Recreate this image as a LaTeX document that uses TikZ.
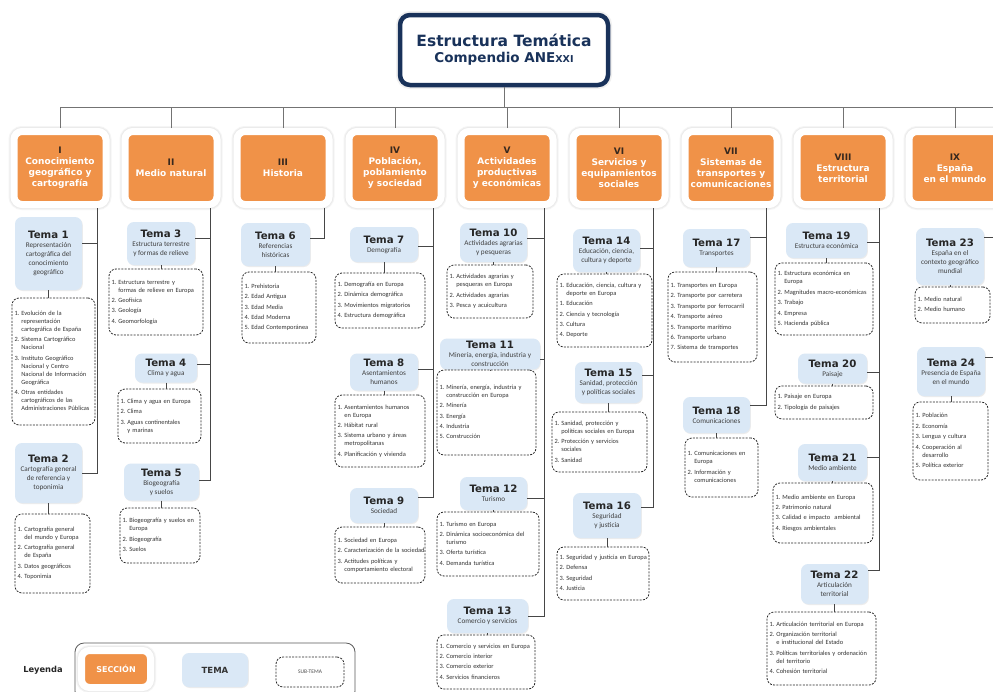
\documentclass[tikz,border=0pt]{standalone}
\usepackage{fontspec}
\setmainfont{Carlito}
\newfontfamily\hfont{DejaVu Sans}
\usetikzlibrary{positioning, shadows}

\definecolor{secorange}{RGB}{240,146,72}
\definecolor{temablue}{RGB}{218,232,246}
\definecolor{navy}{RGB}{25,50,90}
\definecolor{linegray}{RGB}{70,70,70}
\definecolor{bargray}{RGB}{115,115,115}
\definecolor{romandark}{RGB}{55,40,30}

\newcommand{\tnum}[1]{{\hfont\bfseries\fontsize{10.2}{9}\selectfont\color{black!85}#1}}
\newcommand{\snum}[1]{{\color{romandark}#1}}
\newcommand{\nxt}{\\[2.4pt]}
\newenvironment{stlist}{\begin{tabular}{@{}l@{\hspace{2pt}}l@{}}}{\end{tabular}}

\begin{document}
\begin{tikzpicture}[
		x=1pt, y=-1pt,
		sec/.style={fill=secorange, draw=white, line width=7pt, rounded corners=8pt, align=center, inner sep=0pt, text=white, font=\hfont\bfseries\fontsize{9}{11}\selectfont, preaction={draw=black!4, line width=11pt}, preaction={draw=black!8, line width=9pt}},
		tema/.style={fill=temablue, rounded corners=7pt, align=center, inner sep=1.5pt, text=black!75, font=\fontsize{7.2}{9}\selectfont, drop shadow={opacity=0.15, shadow xshift=0.8pt, shadow yshift=-1pt}},
		sub/.style={draw=black!85, line width=0.8pt, dash pattern=on 2pt off 1.3pt, rounded corners=7pt, fill=white, align=left, inner xsep=2.5pt, inner ysep=1pt, text=black!80, font=\fontsize{6.4}{8}\selectfont},
		conn/.style={draw=linegray, line width=0.9pt},
		barline/.style={draw=bargray, line width=0.9pt},
	]
	\useasboundingbox (0,0) rectangle (993,691);
	\fill[white] (0,0) rectangle (993,691);

	% title
	\node[draw=navy, line width=4.5pt, rounded corners=10pt, fill=white, minimum width=208, minimum height=70, align=center, text=navy, font=\hfont\bfseries\fontsize{13.5}{15}\selectfont, preaction={draw=black!6, line width=8pt}] (ttl) at (504,50) {{\fontsize{15.5}{18}\selectfont Estructura Temática}\\[1pt]Compendio ANE{\fontsize{9.5}{10}\selectfont XXI}};

	% sections
	\node[sec, minimum width=92, minimum height=73] (s1) at (60,168) {\snum{I}\\Conocimiento\\geográfico y\\cartografía};
	\node[sec, minimum width=92, minimum height=73] (s2) at (171,168) {\snum{II}\\Medio natural};
	\node[sec, minimum width=92, minimum height=73] (s3) at (283,168) {\snum{III}\\Historia};
	\node[sec, minimum width=92, minimum height=73] (s4) at (395,168) {\snum{IV}\\Población,\\poblamiento\\y sociedad};
	\node[sec, minimum width=92, minimum height=73] (s5) at (507,168) {\snum{V}\\Actividades\\productivas\\y económicas};
	\node[sec, minimum width=92, minimum height=73] (s6) at (619,168) {\snum{VI}\\Servicios y\\equipamientos\\sociales};
	\node[sec, minimum width=92, minimum height=73] (s7) at (731,168) {\snum{VII}\\Sistemas de\\transportes y\\comunicaciones};
	\node[sec, minimum width=92, minimum height=73] (s8) at (843,168) {\snum{VIII}\\Estructura\\territorial};
	\node[sec, minimum width=92, minimum height=73] (s9) at (955,168) {\snum{IX}\\España\\en el mundo};

	\coordinate (bar) at (0,107);
	\coordinate (barend) at (1000,107);
	\draw[barline] (ttl.south) -- (ttl.south |- bar);
	\draw[barline] (s1.north |- bar) -- (barend);
	\foreach \s in {1,...,9}
		\draw[barline] (s\s.north) -- (s\s.north |- bar);

	% temas
	\node[tema, minimum width=67, minimum height=73] (t1) at (48.5,253.5) {\tnum{Tema 1}\\Representación\\cartográfica del\\conocimiento\\geográfico};
	\node[tema, minimum width=67, minimum height=60] (t2) at (48.5,473) {\tnum{Tema 2}\\Cartografía general\\de referencia y\\toponimia};
	\node[tema, minimum width=68, minimum height=43] (t3) at (161,243.5) {\tnum{Tema 3}\\Estructura terrestre\\y formas de relieve};
	\node[tema, minimum width=62, minimum height=29] (t4) at (166,368) {\tnum{Tema 4}\\Clima y agua};
	\node[tema, minimum width=75, minimum height=37] (t5) at (161.5,482) {\tnum{Tema 5}\\Biogeografía\\y suelos};
	\node[tema, minimum width=69, minimum height=43] (t6) at (275.5,244.5) {\tnum{Tema 6}\\Referencias\\históricas};
	\node[tema, minimum width=68, minimum height=35] (t7) at (384,244.5) {\tnum{Tema 7}\\Demografía};
	\node[tema, minimum width=68, minimum height=37] (t8) at (384,372) {\tnum{Tema 8}\\Asentamientos\\humanos};
	\node[tema, minimum width=68, minimum height=35] (t9) at (384,505.5) {\tnum{Tema 9}\\Sociedad};
	\node[tema, minimum width=67, minimum height=39] (t10) at (493.5,242.5) {\tnum{Tema 10}\\Actividades agrarias\\y pesqueras};
	\node[tema, minimum width=100, minimum height=31] (t11) at (490,354) {\tnum{Tema 11}\\Minería, energía, industria y\\construcción};
	\node[tema, minimum width=67, minimum height=33] (t12) at (493.5,493.5) {\tnum{Tema 12}\\Turismo};
	\node[tema, minimum width=81, minimum height=34] (t13) at (487.5,616) {\tnum{Tema 13}\\Comercio y servicios};
	\node[tema, minimum width=67, minimum height=43] (t14) at (606.5,250.5) {\tnum{Tema 14}\\Educación, ciencia,\\cultura y deporte};
	\node[tema, minimum width=67, minimum height=41] (t15) at (608.5,382.5) {\tnum{Tema 15}\\Sanidad, protección\\y políticas sociales};
	\node[tema, minimum width=68, minimum height=45] (t16) at (607,515.5) {\tnum{Tema 16}\\Seguridad\\y justicia};
	\node[tema, minimum width=67, minimum height=38] (t17) at (716.5,248) {\tnum{Tema 17}\\Transportes};
	\node[tema, minimum width=67, minimum height=36] (t18) at (716.5,415) {\tnum{Tema 18}\\Comunicaciones};
	\node[tema, minimum width=81, minimum height=35] (t19) at (826.5,240.5) {\tnum{Tema 19}\\Estructura económica};
	\node[tema, minimum width=69, minimum height=30] (t20) at (832.5,368.5) {\tnum{Tema 20}\\Paisaje};
	\node[tema, minimum width=69, minimum height=37] (t21) at (832.5,462.5) {\tnum{Tema 21}\\Medio ambiente};
	\node[tema, minimum width=67, minimum height=40] (t22) at (834.5,584) {\tnum{Tema 22}\\Articulación\\territorial};
	\node[tema, minimum width=68, minimum height=57] (t23) at (950,256.5) {\tnum{Tema 23}\\España en el\\contexto geográfico\\mundial};
	\node[tema, minimum width=68, minimum height=49] (t24) at (951,371.5) {\tnum{Tema 24}\\Presencia de España\\en el mundo};

	% sub-temas
	\node[sub, text width=78, minimum height=127] (st1) at (53.5,361.5) {\begin{stlist}
		1. & Evolución de la\\ & representación\\ & cartográfica de España\nxt
		2. & Sistema Cartográfico\\ & Nacional\nxt
		3. & Instituto Geográfico\\ & Nacional y Centro\\ & Nacional de Información\\ & Geográfica\nxt
		4. & Otras entidades\\ & cartográficos de las\\ & Administraciones Públicas
	\end{stlist}};
	\node[sub, text width=70, minimum height=79] (st2) at (52.5,553.5) {\begin{stlist}
		1. & Cartografía general\\ & del mundo y Europa\nxt
		2. & Cartografía general\\ & de España\nxt
		3. & Datos geográficos\nxt
		4. & Toponimia
	\end{stlist}};
	\node[sub, text width=89, minimum height=66] (st3) at (156,302) {\begin{stlist}
		1. & Estructura terrestre y\\ & formas de relieve en Europa\nxt
		2. & Geofísica\nxt
		3. & Geología\nxt
		4. & Geomorfología
	\end{stlist}};
	\node[sub, text width=78, minimum height=54] (st4) at (159.5,416) {\begin{stlist}
		1. & Clima y agua en Europa\nxt
		2. & Clima\nxt
		3. & Aguas continentales\\ & y marinas
	\end{stlist}};
	\node[sub, text width=75, minimum height=55] (st5) at (160,535.5) {\begin{stlist}
		1. & Biogeografía y suelos en\\ & Europa\nxt
		2. & Biogeografía\nxt
		3. & Suelos
	\end{stlist}};
	\node[sub, text width=69, minimum height=71] (st6) at (279,307.5) {\begin{stlist}
		1. & Prehistoria\nxt
		2. & Edad Antigua\nxt
		3. & Edad Media\nxt
		4. & Edad Moderna\nxt
		5. & Edad Contemporánea
	\end{stlist}};
	\node[sub, text width=85, minimum height=55] (st7) at (380,300.5) {\begin{stlist}
		1. & Demografía en Europa\nxt
		2. & Dinámica demográfica\nxt
		3. & Movimientos migratorios\nxt
		4. & Estructura demográfica
	\end{stlist}};
	\node[sub, text width=85, minimum height=72] (st8) at (380,431) {\begin{stlist}
		1. & Asentamientos humanos\\ & en Europa\nxt
		2. & Hábitat rural\nxt
		3. & Sistema urbano y áreas\\ & metropolitanas\nxt
		4. & Planificación y vivienda
	\end{stlist}};
	\node[sub, text width=85, minimum height=56] (st9) at (380,555) {\begin{stlist}
		1. & Sociedad en Europa\nxt
		2. & Caracterización de la sociedad\nxt
		3. & Actitudes políticas y\\ & comportamiento electoral
	\end{stlist}};
	\node[sub, text width=81, minimum height=53] (st10) at (490,291.5) {\begin{stlist}
		1. & Actividades agrarias y\\ & pesqueras en Europa\nxt
		2. & Actividades agrarias\nxt
		3. & Pesca y acuicultura
	\end{stlist}};
	\node[sub, text width=94, minimum height=85] (st11) at (486.5,412.5) {\begin{stlist}
		1. & Minería, energía, industria y\\ & construcción en Europa\nxt
		2. & Minería\nxt
		3. & Energía\nxt
		4. & Industria\nxt
		5. & Construcción
	\end{stlist}};
	\node[sub, text width=97, minimum height=64] (st12) at (488,544) {\begin{stlist}
		1. & Turismo en Europa\nxt
		2. & Dinámica socioeconómica del\\ & turismo\nxt
		3. & Oferta turística\nxt
		4. & Demanda turística
	\end{stlist}};
	\node[sub, text width=93, minimum height=54] (st13) at (486,662) {\begin{stlist}
		1. & Comercio y servicios en Europa\nxt
		2. & Comercio interior\nxt
		3. & Comercio exterior\nxt
		4. & Servicios financieros
	\end{stlist}};
	\node[sub, text width=90, minimum height=73] (st14) at (604.5,310.5) {\begin{stlist}
		1. & Educación, ciencia, cultura y\\ & deporte en Europa\nxt
		1. & Educación\nxt
		2. & Ciencia y tecnología\nxt
		3. & Cultura\nxt
		4. & Deporte
	\end{stlist}};
	\node[sub, text width=90, minimum height=60] (st15) at (599.5,442) {\begin{stlist}
		1. & Sanidad, protección y\\ & políticas sociales en Europa\nxt
		2. & Protección y servicios\\ & sociales\nxt
		3. & Sanidad
	\end{stlist}};
	\node[sub, text width=87, minimum height=53] (st16) at (603,573.5) {\begin{stlist}
		1. & Seguridad y justicia en Europa\nxt
		2. & Defensa\nxt
		3. & Seguridad\nxt
		4. & Justicia
	\end{stlist}};
	\node[sub, text width=84, minimum height=90] (st17) at (712.5,317) {\begin{stlist}
		1. & Transportes en Europa\nxt
		2. & Transporte por carretera\nxt
		3. & Transporte por ferrocarril\nxt
		4. & Transporte aéreo\nxt
		5. & Transporte marítimo\nxt
		6. & Transporte urbano\nxt
		7. & Sistema de transportes
	\end{stlist}};
	\node[sub, text width=68, minimum height=59] (st18) at (721.5,467.5) {\begin{stlist}
		1. & Comunicaciones en\\ & Europa\nxt
		2. & Información y\\ & comunicaciones
	\end{stlist}};
	\node[sub, text width=93, minimum height=72] (st19) at (824,299) {\begin{stlist}
		1. & Estructura económica en\\ & Europa\nxt
		2. & Magnitudes macro-económicas\nxt
		3. & Trabajo\nxt
		4. & Empresa\nxt
		5. & Hacienda pública
	\end{stlist}};
	\node[sub, text width=93, minimum height=33] (st20) at (824,402.5) {\begin{stlist}
		1. & Paisaje en Europa\nxt
		2. & Tipología de paisajes
	\end{stlist}};
	\node[sub, text width=95, minimum height=60] (st21) at (823,513) {\begin{stlist}
		1. & Medio ambiente en Europa\nxt
		2. & Patrimonio natural\nxt
		3. & Calidad e impacto \ ambiental\nxt
		4. & Riesgos ambientales
	\end{stlist}};
	\node[sub, text width=104, minimum height=73] (st22) at (821.5,648.5) {\begin{stlist}
		1. & Articulación territorial en Europa\nxt
		2. & Organización territorial\\ & e institucional del Estado\nxt
		3. & Políticas territoriales y ordenación\\ & del territorio\nxt
		4. & Cohesión territorial
	\end{stlist}};
	\node[sub, text width=70, minimum height=36] (st23) at (952.5,305) {\begin{stlist}
		1. & Medio natural\nxt
		2. & Medio humano
	\end{stlist}};
	\node[sub, text width=70, minimum height=78] (st24) at (950.5,441) {\begin{stlist}
		1. & Población\nxt
		2. & Economía\nxt
		3. & Lengua y cultura\nxt
		4. & Cooperación al\\ & desarrollo\nxt
		5. & Política exterior
	\end{stlist}};

	% tema to sub-tema
	\foreach \n in {1,...,24}
		\draw[conn, line width=0.8pt] (t\n.south) -- (t\n.south |- st\n.north);

	% columns
	\foreach \s/\dx in {1/37, 2/39, 3/41, 4/38, 5/37, 6/34, 7/35, 8/36, 9/39}
		\coordinate (c\s) at ([xshift=\dx pt]s\s.south);
	\foreach \t/\dy in {t1/10, t2/0}
		\draw[conn] (c1) |- ([yshift=\dy pt]\t.east);
	\foreach \t/\dy in {t3/5, t4/4, t5/2}
		\draw[conn] (c2) |- ([yshift=\dy pt]\t.east);
	\draw[conn] (c3) |- ([yshift=6pt]t6.east);
	\foreach \t/\dy in {t7/-2, t8/3, t9/8}
		\draw[conn] (c4) |- ([yshift=\dy pt]\t.east);
	\foreach \t/\dy in {t10/4, t11/-5, t12/-5, t13/0}
		\draw[conn] (c5) |- ([yshift=\dy pt]\t.east);
	\foreach \t/\dy in {t14/2, t15/7, t16/8}
		\draw[conn] (c6) |- ([yshift=\dy pt]\t.east);
	\foreach \t/\dy in {t17/11, t18/10}
		\draw[conn] (c7) |- ([yshift=\dy pt]\t.east);
	\foreach \t/\dy in {t19/-2, t20/-4, t21/5, t22/14}
		\draw[conn] (c8) |- ([yshift=\dy pt]\t.east);
	\foreach \t/\dy in {t23/19, t24/14}
		\draw[conn] (c9) |- ([yshift=\dy pt]\t.east);

	% legend
	\node[font=\hfont\bfseries\fontsize{8.3}{10}\selectfont, text=black!85] (leyenda) at (43,670) {Leyenda};
	\node[draw=black!65, line width=0.8pt, rounded corners=9pt, minimum width=280, minimum height=57] (leg) at (215,671.5) {};
	\node[sec, minimum width=69, minimum height=37, font=\hfont\bfseries\fontsize{8}{10}\selectfont] (legsec) at (116,669) {SECCIÓN};
	\node[tema, minimum width=66, minimum height=34, font=\hfont\bfseries\fontsize{8.5}{10}\selectfont, text=black!80] (legtema) at (215,670) {TEMA};
	\node[sub, align=center, text width=63, minimum height=30, font=\fontsize{5.5}{7}\selectfont, text=black!70] (legsub) at (310,672) {SUB-TEMA};
\end{tikzpicture}
\end{document}
